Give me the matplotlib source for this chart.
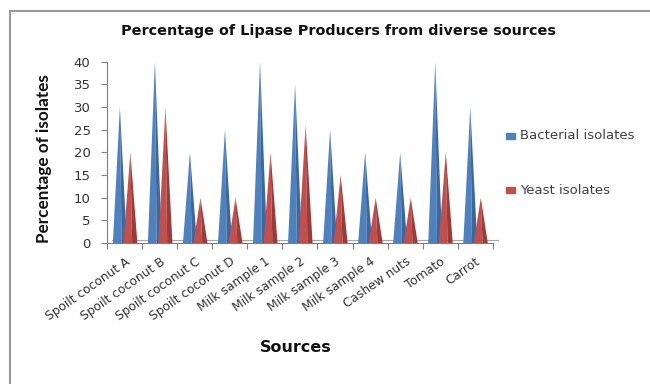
import matplotlib.pyplot as plt
import matplotlib.transforms as mtransforms
from matplotlib.lines import Line2D
from matplotlib.patches import Rectangle
import numpy as np

plt.rcParams['font.family'] = ['DejaVu Sans']

sources = ['Spoilt coconut A', 'Spoilt coconut B', 'Spoilt coconut C', 'Spoilt coconut D',
           'Milk sample 1', 'Milk sample 2', 'Milk sample 3', 'Milk sample 4',
           'Cashew nuts', 'Tomato', 'Carrot']
bacterial = [30, 40, 20, 25, 40, 35, 25, 20, 20, 40, 30]
yeast = [20, 30, 10, 10, 20, 26, 15, 10, 10, 20, 10]

blue_light, blue_dark = '#4F81BD', '#3C679F'
red_light, red_dark = '#C0504D', '#993C3A'

fig = plt.figure(figsize=(6.5, 3.84), dpi=100)
ax = fig.add_axes([0.165, 0.367, 0.593, 0.472])

half_w = 0.2


def cone(ax, xc, h, light, dark):
    # left (lit) face and right (shaded) face of a cone/pyramid
    ridge = xc + 0.05
    ax.fill([xc - half_w, ridge, xc], [0, 0, h], color=light, lw=0, zorder=3)
    ax.fill([ridge, xc + half_w, xc], [0, 0, h], color=dark, lw=0, zorder=3)


x = np.arange(len(sources))
for i in range(len(sources)):
    cone(ax, x[i] - 0.14, bacterial[i], blue_light, blue_dark)
    cone(ax, x[i] + 0.16, yeast[i], red_light, red_dark)

n = len(sources)
ax.set_xlim(-0.5, n - 0.5)
ax.set_ylim(0, 40)
ax.set_yticks(range(0, 41, 5))
ax.tick_params(axis='y', labelsize=9.5, colors='#7F7F7F', labelcolor='#333333',
               length=4, direction='out', pad=8)

# x ticks at group boundaries, labels near group centres
ax.set_xticks(np.arange(-0.5, n, 1.0))
ax.set_xticklabels([])
ax.tick_params(axis='x', colors='#7F7F7F', length=4, direction='out')
for i, s in enumerate(sources):
    ax.text(x[i] + 0.0, -2.6, s, rotation=35, ha='right', va='top',
            rotation_mode='anchor', fontsize=8.8, color='#333333')

for sp in ['top', 'right']:
    ax.spines[sp].set_visible(False)
ax.spines['left'].set_color('#7F7F7F')
ax.spines['bottom'].set_color('#7F7F7F')

# thin 3D floor edge
off = mtransforms.offset_copy(ax.transData, fig=fig, x=5, y=3, units='dots')
ax.plot([-0.5, n - 0.5], [0, 0], color='#A6A6A6', lw=0.8, transform=off,
        clip_on=False, zorder=2)

fig.text(0.52, 0.918, 'Percentage of Lipase Producers from diverse sources',
         ha='center', va='center', fontsize=10.4, fontweight='bold', color='#111111')
fig.text(0.068, 0.588, 'Percentage of isolates', rotation=90, ha='center', va='center',
         fontsize=12.3, fontweight='bold', color='#111111', family='Lato')
fig.text(0.455, 0.094, 'Sources', ha='center', va='center',
         fontsize=11.5, fontweight='bold', color='#111111')

# legend
fig.patches.append(Rectangle((0.778, 0.638), 0.0138, 0.0156, transform=fig.transFigure,
                             color=blue_light))
fig.text(0.8, 0.646, 'Bacterial isolates', ha='left', va='center', fontsize=9.5,
         color='#404040')
fig.patches.append(Rectangle((0.778, 0.497), 0.0138, 0.0156, transform=fig.transFigure,
                             color=red_light))
fig.text(0.8, 0.505, 'Yeast isolates', ha='left', va='center', fontsize=9.5,
         color='#404040')

# frame border (top and left edges only)
fig.add_artist(Line2D([0.015, 1.0], [0.972, 0.972], transform=fig.transFigure,
                      color='#9A9A9A', lw=1.5))
fig.add_artist(Line2D([0.015, 0.015], [0.0, 0.972], transform=fig.transFigure,
                      color='#9A9A9A', lw=1.5))

fig.savefig('out.png', dpi=100)
